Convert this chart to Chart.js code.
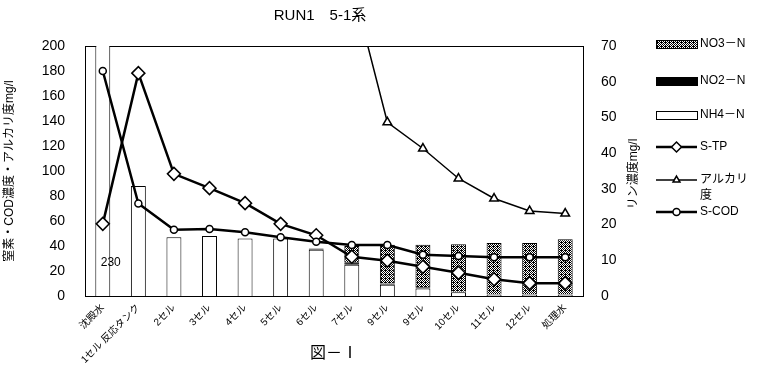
<!DOCTYPE html>
<html>
<head>
<meta charset="utf-8">
<script src="https://cdn.jsdelivr.net/npm/chart.js@4"></script>
<style>body{margin:0;background:#fff}</style>
</head>
<body>
<canvas id="c" width="776" height="369"></canvas>
<script>
const labels = ['沈殿水', '1セル 反応タンク', '2セル', '3セル', '4セル', '5セル', '6セル', '7セル', '9セル', '9セル', '10セル', '11セル', '12セル', '処理水'];
const nh4 = [230, 88, 47, 48, 46, 46, 37, 25, 9, 6, 3, 1, 1, 1];
const no2 = [0, 0, 0, 0, 0, 0, 1, 2, 1, 1, 0.5, 0.5, 0.5, 0.5];
const no3 = [0, 0, 0, 0, 0, 0, 0, 13, 31, 34, 38, 41, 41, 44];
const sTP = [20.2, 62.4, 34.2, 30.2, 26, 20.2, 17, 11, 9.9, 8.2, 6.5, 4.7, 3.6, 3.6];
const alk = [null, null, null, null, null, null, null, 250, 139, 118, 94, 78, 68, 66];
const sCOD = [180, 74, 53, 53.6, 51, 47, 43.4, 40.8, 40.8, 33, 32, 31, 31, 31];

const fontFam = "'Liberation Sans', 'Noto Sans CJK JP', sans-serif";
Chart.defaults.font.family = fontFam;
Chart.defaults.color = '#000';

// crosshatch for NO3
function makeHatch() {
  const p = document.createElement('canvas');
  p.width = 4; p.height = 4;
  const g = p.getContext('2d');
  g.fillStyle = '#fff';
  g.fillRect(0, 0, 4, 4);
  g.fillStyle = '#000';
  [[0,0],[1,1],[2,2],[3,3],[3,1],[1,3],[0,2],[2,0],[1,2]].forEach(([x, y]) => g.fillRect(x, y, 1, 1));
  return document.getElementById('c').getContext('2d').createPattern(p, 'repeat');
}
const hatch = makeHatch();

const frame = {
  id: 'frame',
  beforeDatasetsDraw(chart) {
    const { ctx, chartArea: a } = chart;
    ctx.save();
    ctx.strokeStyle = '#000';
    ctx.lineWidth = 1;
    ctx.strokeRect(a.left + 0.5, a.top + 0.5, a.right - a.left, a.bottom - a.top);
    ctx.restore();
  },
  afterDraw(chart) {
    const { ctx, chartArea: a } = chart;
    ctx.save();
    // right axis title
    ctx.font = '12px ' + fontFam;
    ctx.fillStyle = '#000';
    ctx.textAlign = 'center';
    ctx.textBaseline = 'middle';
    ctx.translate(634, (a.top + a.bottom) / 2 + 3);
    ctx.rotate(-Math.PI / 2);
    ctx.fillText('リン濃度mg/l', 0, 0);
    ctx.restore();

    // label of clipped bar
    const bar = chart.getDatasetMeta(0).data[0];
    ctx.save();
    ctx.font = '12px ' + fontFam;
    ctx.fillStyle = '#000';
    ctx.textAlign = 'center';
    ctx.textBaseline = 'middle';
    ctx.fillText(String(nh4[0]), bar.x + 8, chart.scales.y.getPixelForValue(27));
    ctx.restore();

    // legend
    const items = [
      { t: ['NO3－N'], kind: 'bar', fill: hatch, y: 44 },
      { t: ['NO2－N'], kind: 'bar', fill: '#000', y: 81 },
      { t: ['NH4－N'], kind: 'bar', fill: '#fff', y: 115 },
      { t: ['S-TP'], kind: 'line', style: 'rectRot', r: 5, w: 2.5, y: 147 },
      { t: ['アルカリ', '度'], kind: 'line', style: 'triangle', r: 4, w: 1.5, y: 180 },
      { t: ['S-COD'], kind: 'line', style: 'circle', r: 3.5, w: 2.5, y: 212 }
    ];
    ctx.save();
    ctx.font = '12px ' + fontFam;
    ctx.textBaseline = 'middle';
    ctx.textAlign = 'left';
    items.forEach(it => {
      const x0 = 656, x1 = 697;
      if (it.kind === 'bar') {
        ctx.fillStyle = it.fill;
        ctx.fillRect(x0, it.y - 4, x1 - x0, 8);
        ctx.strokeStyle = '#000';
        ctx.lineWidth = 1;
        ctx.strokeRect(x0 + 0.5, it.y - 3.5, x1 - x0, 8);
      } else {
        ctx.strokeStyle = '#000';
        ctx.lineWidth = it.w;
        ctx.beginPath();
        ctx.moveTo(x0, it.y);
        ctx.lineTo(x1, it.y);
        ctx.stroke();
        ctx.fillStyle = '#fff';
        ctx.lineWidth = 1.5;
        Chart.helpers.drawPoint(ctx, { pointStyle: it.style, radius: it.r, borderWidth: 1.5 }, (x0 + x1) / 2, it.y);
      }
      ctx.fillStyle = '#000';
      it.t.forEach((s, i) => ctx.fillText(s, x1 + 3, it.y + i * 16));
    });
    ctx.restore();
  }
};

new Chart(document.getElementById('c'), {
  type: 'bar',
  data: {
    labels,
    datasets: [
      { label: 'NH4－N', data: nh4, backgroundColor: '#fff', borderColor: '#000', borderWidth: 1, stack: 'n', order: 2 },
      { label: 'NO2－N', data: no2, backgroundColor: '#000', borderColor: '#000', borderWidth: 1, stack: 'n', order: 2 },
      { label: 'NO3－N', data: no3, backgroundColor: hatch, borderColor: '#000', borderWidth: 1, stack: 'n', order: 2 },
      { type: 'line', label: 'S-COD', data: sCOD, yAxisID: 'y', stack: 'cod', order: 0,
        borderColor: '#000', borderWidth: 2.5, pointStyle: 'circle', pointRadius: 3.5,
        pointBackgroundColor: '#fff', pointBorderColor: '#000', pointBorderWidth: 1.5 },
      { type: 'line', label: 'アルカリ度', data: alk, yAxisID: 'y', stack: 'alk', order: 0,
        borderColor: '#000', borderWidth: 1.5, pointStyle: 'triangle', pointRadius: 5,
        pointBackgroundColor: '#fff', pointBorderColor: '#000', pointBorderWidth: 1.5 },
      { type: 'line', label: 'S-TP', data: sTP, yAxisID: 'y2', stack: 'tp', order: 0,
        borderColor: '#000', borderWidth: 2.5, pointStyle: 'rectRot', pointRadius: 6.5,
        pointBackgroundColor: '#fff', pointBorderColor: '#000', pointBorderWidth: 1.5 }
    ]
  },
  options: {
    responsive: false,
    animation: false,
    layout: { padding: { left: 0, right: 136, top: 0, bottom: 0 } },
    datasets: { bar: { categoryPercentage: 1, barPercentage: 0.42 } },
    plugins: {
      legend: { display: false },
      tooltip: { enabled: false },
      title: {
        display: true,
        text: 'RUN1　5-1系',
        font: { size: 15, weight: 'normal' },
        color: '#000',
        padding: { top: 7, bottom: 21 }
      }
    },
    scales: {
      x: {
        stacked: true,
        grid: { display: false, drawTicks: false },
        border: { display: false },
        ticks: { maxRotation: 45, minRotation: 45, autoSkip: false, font: { size: 10 }, padding: 6 },
        title: { display: true, text: '図－Ⅰ', font: { size: 16 }, padding: { top: 2, bottom: 6 } },
        afterFit: s => { s.height = 73; }
      },
      y: {
        stacked: true,
        min: 0, max: 200,
        grid: { display: false, drawTicks: false },
        border: { display: false },
        ticks: { stepSize: 20, font: { size: 14 }, padding: 20 },
        title: { display: true, text: '窒素・COD濃度・アルカリ度mg/l', font: { size: 12 }, padding: { top: 2, bottom: 2 } },
        afterFit: s => { s.width = 85; }
      },
      y2: {
        position: 'right',
        min: 0, max: 70,
        grid: { display: false, drawTicks: false },
        border: { display: false },
        ticks: { stepSize: 10, font: { size: 14 }, padding: 18 },
        afterFit: s => { s.width = 57; }
      }
    }
  },
  plugins: [frame]
});
</script>
</body>
</html>
